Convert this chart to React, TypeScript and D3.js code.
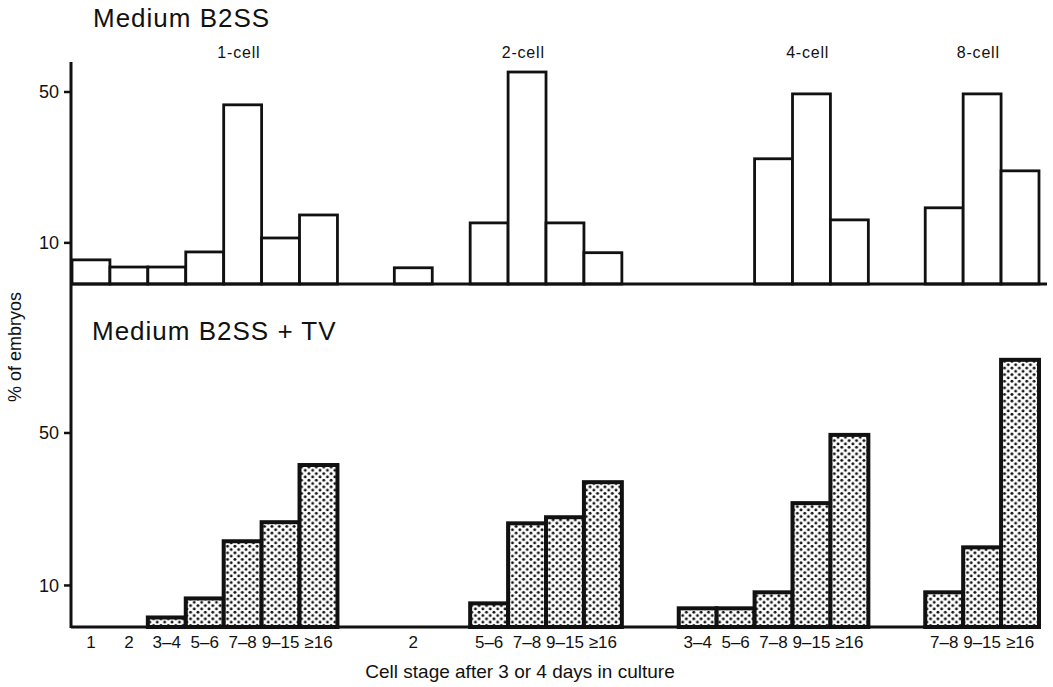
import React from 'react'
import { scaleLinear, max } from 'd3'

// cell stages per starting group (ranges use an en dash)
const groupNames = ['1-cell', '2-cell', '4-cell', '8-cell']
const stages1 = ['1', '2', '3–4', '5–6', '7–8', '9–15', '≥16']
const stages2 = ['2', '3–4', '5–6', '7–8', '9–15', '≥16']
const stages4 = ['3–4', '5–6', '7–8', '9–15', '≥16']
const stages8 = ['7–8', '9–15', '≥16']

// % of embryos, Medium B2SS
const plain1 = [5.5, 3.6, 3.6, 7.6, 46.6, 11.3, 17.4]
const plain2 = [3.4, 0, 15.3, 55.3, 15.3, 7.4]
const plain4 = [0, 0, 32.3, 49.5, 16.1]
const plain8 = [19.3, 49.5, 29.1]

// % of embryos, Medium B2SS + TV
const tv1 = [0, 0, 1.6, 6.6, 21.6, 26.6, 41.6]
const tv2 = [0, 0, 5.3, 26.3, 27.9, 37.1]
const tv4 = [4.0, 4.0, 8.2, 31.6, 49.5]
const tv8 = [8.2, 20.0, 69.2]

const yTicks = [10, 50]

const stageSets = [stages1, stages2, stages4, stages8]
const plainSets = [plain1, plain2, plain4, plain8]
const tvSets = [tv1, tv2, tv4, tv8]

const FONT = '"Liberation Sans", Arial, Helvetica, sans-serif'
const GAP = 1.5 // empty slots between groups

const App = () => {
  const width = 1053
  const height = 687
  const axisX = 71

  // slot offsets for each group
  const offsets: number[] = []
  let acc = 0
  stageSets.forEach((s, i) => {
    offsets.push(acc)
    acc += s.length + (i < stageSets.length - 1 ? GAP : 0)
  })
  const x = scaleLinear().domain([0, acc]).range([72, 1039])
  const slotW = x(1) - x(0)

  const yTop = scaleLinear().domain([-0.9, 50]).range([284, 92])
  const yBot = scaleLinear().domain([-0.9, 50]).range([627, 433])

  const bars = (sets: number[][], y: any, stroke: number, fill: string) =>
    sets.map((vals, g) =>
      vals.map((v, i) =>
        v > 0 ? (
          <rect
            key={`${g}-${i}`}
            x={x(offsets[g] + i)}
            y={y(v)}
            width={slotW}
            height={y.range()[0] - y(v)}
            fill={fill}
            stroke="#111"
            strokeWidth={stroke}
          />
        ) : null
      )
    )

  const yAxis = (y: any) =>
    yTicks.map(t => (
      <g key={t} transform={`translate(0,${y(t)})`}>
        <line x1={axisX - 7} x2={axisX} stroke="#111" strokeWidth={2.5} />
        <text x={axisX - 12} dy="0.36em" textAnchor="end" fontSize={18}>{t}</text>
      </g>
    ))

  return (
    <div style={{ position: 'absolute', left: 0, top: 0 }}>
      <svg width={width} height={height} style={{ display: 'block', background: '#fff' }} fontFamily={FONT} fill="#111">
        <defs>
          <pattern id="dots" patternUnits="userSpaceOnUse" width={7.4} height={6.6}>
            <rect width={7.4} height={6.6} fill="#fff" />
            <circle cx={1.85} cy={1.65} r={1.45} fill="#111" />
            <circle cx={5.55} cy={4.95} r={1.45} fill="#111" />
          </pattern>
        </defs>

        <text x={93} y={27} fontSize={26} letterSpacing={1}>Medium B2SS</text>
        <text x={92} y={340} fontSize={26} letterSpacing={1}>Medium B2SS + TV</text>

        {/* group labels over the tallest bar of each group */}
        {groupNames.map((name, g) => {
          const vals = plainSets[g]
          const m = vals.indexOf(max(vals) as number)
          return (
            <text key={name} x={x(offsets[g] + m + 0.4)} y={58} textAnchor="middle" fontSize={16} letterSpacing={0.8}>
              {name}
            </text>
          )
        })}

        {bars(plainSets, yTop, 2.8, '#fff')}
        {bars(tvSets, yBot, 4, 'url(#dots)')}

        {/* baselines and axis */}
        <line x1={axisX} x2={1047} y1={yTop.range()[0]} y2={yTop.range()[0]} stroke="#111" strokeWidth={3} />
        <line x1={axisX} x2={1040} y1={yBot.range()[0]} y2={yBot.range()[0]} stroke="#111" strokeWidth={3} />
        <line x1={axisX} x2={axisX} y1={62} y2={628} stroke="#111" strokeWidth={3} />
        {yAxis(yTop)}
        {yAxis(yBot)}

        {/* stage labels under the lower panel */}
        {stageSets.map((stages, g) =>
          stages.map((s, i) =>
            plainSets[g][i] > 0 || tvSets[g][i] > 0 ? (
              <text key={`${g}-${s}`} x={x(offsets[g] + i + 0.5)} y={648} textAnchor="middle" fontSize={17}>
                {s}
              </text>
            ) : null
          )
        )}

        <text x={520} y={678} textAnchor="middle" fontSize={19}>Cell stage after 3 or 4 days in culture</text>
        <text transform="translate(21,347) rotate(-90)" textAnchor="middle" fontSize={18}>% of embryos</text>
      </svg>
    </div>
  )
}

export default App
